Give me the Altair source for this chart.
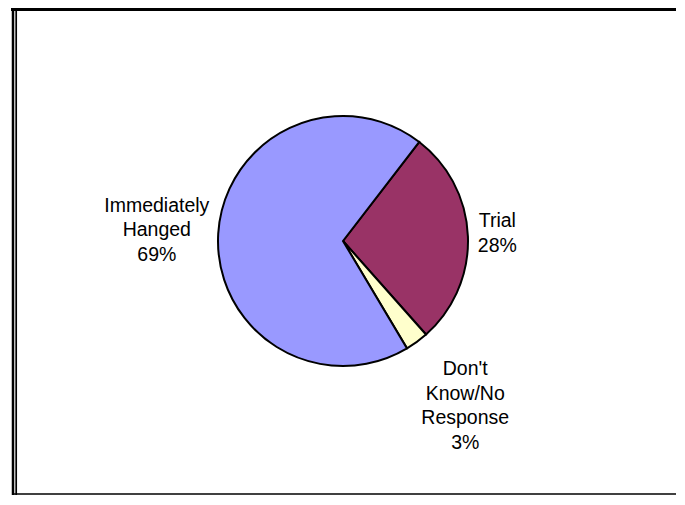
import math
import altair as alt
import pandas as pd

categories = ["Trial", "Don't Know/No Response", "Immediately Hanged"]
values = [28, 3, 69]
label_text = ["Trial\n28%", "Don't\nKnow/No\nResponse\n3%", "Immediately\nHanged\n69%"]
colors = ["#993366", "#FFFFCC", "#9999FF"]

df = pd.DataFrame({
    "category": categories,
    "value": values,
    "order": list(range(len(categories))),
    "label": label_text,
})

start = math.radians(37.6)
theta_scale = alt.Scale(range=[start, start + 2 * math.pi])
LH = 24.5

base = alt.Chart(df)

pie = base.mark_arc(radius=125, stroke="black", strokeWidth=2).encode(
    theta=alt.Theta("value:Q", stack=True, scale=theta_scale),
    color=alt.Color("category:N", scale=alt.Scale(domain=categories, range=colors), legend=None),
    order=alt.Order("order:Q"),
)

labels = base.transform_window(
    cum="sum(value)", sort=[alt.SortField("order")]
).transform_joinaggregate(
    total="sum(value)"
).transform_calculate(
    # label placement outside the slice: distance and small angular nudge (degrees)
    lr="datum.category == 'Trial' ? 154.5 : (datum.category == 'Immediately Hanged' ? 186.5 : 205.5)",
    nudge="datum.category == 'Trial' ? -0.7 : (datum.category == 'Immediately Hanged' ? -0.1 : -0.3)",
).transform_calculate(
    mid="(datum.cum - datum.value / 2) / datum.total * 2 * PI + " + repr(start) + " + datum.nudge * PI / 180",
    nlines="length(split(datum.label, '\\n'))",
).transform_calculate(
    ax="datum.lr * sin(datum.mid)",
    ay="-datum.lr * cos(datum.mid) - (datum.nlines - 1) / 2 * " + repr(LH),
).transform_calculate(
    th="atan2(datum.ax, -datum.ay)",
    rr="sqrt(datum.ax * datum.ax + datum.ay * datum.ay)",
).mark_text(
    font="Liberation Sans", fontSize=19.5, lineHeight=LH, lineBreak="\n",
    align="center", baseline="middle", color="black",
).encode(
    theta=alt.Theta("th:Q", stack=None, scale=None),
    radius=alt.Radius("rr:Q", scale=None),
    text="label:N",
)

one = alt.Data(values=[{"a": 1}])
top_rule = alt.Chart(one).mark_rule(color="black", strokeWidth=3).encode(
    x=alt.value(1), x2=alt.value(700), y=alt.value(1.5))
left_rule1 = alt.Chart(one).mark_rule(color="black", strokeWidth=2.5).encode(
    x=alt.value(3), y=alt.value(0), y2=alt.value(490))
left_rule2 = alt.Chart(one).mark_rule(color="black", strokeWidth=1.7).encode(
    x=alt.value(6.2), y=alt.value(0), y2=alt.value(490))
bottom_rule = alt.Chart(one).mark_rule(color="black", strokeWidth=1.5).encode(
    x=alt.value(2), x2=alt.value(700), y=alt.value(486))

chart = alt.layer(pie, labels, top_rule, left_rule1, left_rule2, bottom_rule).properties(
    width=666, height=466,
    background="white",
    autosize=alt.AutoSizeParams(type="none"),
    padding={"left": 2, "top": 0, "right": 0, "bottom": 21},
).configure_view(stroke=None)

chart.save("out.html", embed_options={"renderer": "svg", "actions": False})
